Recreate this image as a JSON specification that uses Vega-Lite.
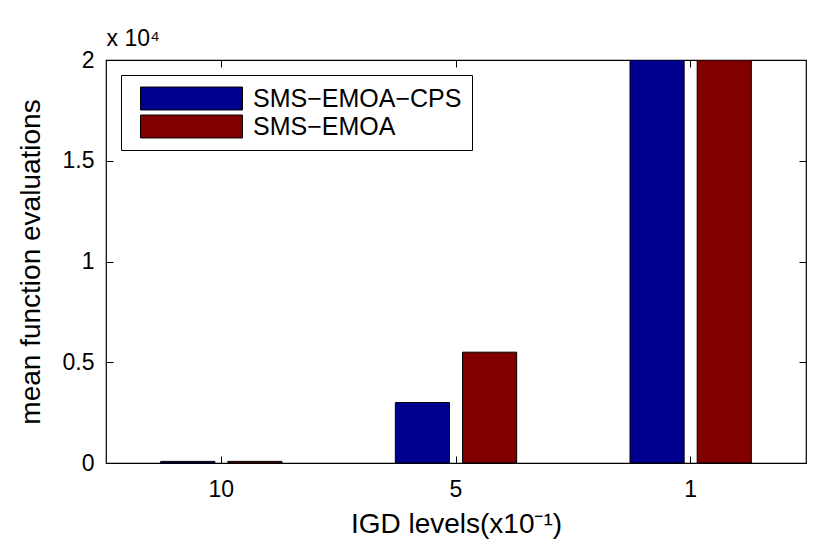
{
  "$schema": "https://vega.github.io/schema/vega-lite/v6.json",
  "autosize": {"type": "none"},
  "width": 700,
  "height": 403,
  "padding": {"left": 106, "top": 60, "right": 24, "bottom": 90},
  "background": "white",
  "config": {
    "font": "Liberation Sans",
    "view": {"stroke": "black", "strokeWidth": 1.2},
    "axis": {
      "grid": false,
      "domainColor": "black",
      "tickColor": "black",
      "labelColor": "black",
      "titleColor": "black",
      "labelFont": "Liberation Sans",
      "titleFont": "Liberation Sans",
      "labelFontSize": 23,
      "titleFontSize": 28,
      "titleFontWeight": "normal",
      "tickSize": -7,
      "labelPadding": 19
    }
  },
  "data": {
    "values": [
      {"level": "10", "alg": "SMS-EMOA-CPS", "evals": 80},
      {"level": "10", "alg": "SMS-EMOA", "evals": 80},
      {"level": "5", "alg": "SMS-EMOA-CPS", "evals": 3000},
      {"level": "5", "alg": "SMS-EMOA", "evals": 5500},
      {"level": "1", "alg": "SMS-EMOA-CPS", "evals": 20000},
      {"level": "1", "alg": "SMS-EMOA", "evals": 20000}
    ]
  },
  "layer": [
    {
      "mark": {"type": "bar", "stroke": "black", "strokeWidth": 1, "clip": true},
      "encoding": {
        "x": {
          "field": "level",
          "type": "nominal",
          "sort": ["10", "5", "1"],
          "scale": {"paddingInner": 0.483, "paddingOuter": 0.233},
          "axis": {"title": "IGD levels(x10⁻¹)", "labelAngle": 0, "labelPadding": 22, "titlePadding": 9, "domain": false}
        },
        "xOffset": {
          "field": "alg",
          "type": "nominal",
          "sort": ["SMS-EMOA-CPS", "SMS-EMOA"],
          "scale": {"paddingInner": 0.194, "paddingOuter": 0}
        },
        "y": {
          "field": "evals",
          "type": "quantitative",
          "scale": {"domain": [0, 20000], "nice": false},
          "axis": {
            "title": "mean function evaluations",
            "values": [0, 5000, 10000, 15000, 20000],
            "labelExpr": "datum.value / 10000",
            "titlePadding": 17,
            "domain": false
          }
        },
        "color": {
          "field": "alg",
          "type": "nominal",
          "sort": ["SMS-EMOA-CPS", "SMS-EMOA"],
          "scale": {"range": ["#00008F", "#800000"]},
          "legend": {
            "title": null,
            "orient": "none",
            "legendX": 15,
            "legendY": 15,
            "symbolType": "M-4,-0.9H4V0.9H-4Z",
            "symbolSize": 650,
            "symbolStrokeColor": "black",
            "symbolStrokeWidth": 1,
            "symbolOpacity": 1,
            "labelExpr": "datum.label == 'SMS-EMOA-CPS' ? 'SMS−EMOA−CPS' : 'SMS−EMOA'",
            "labelFontSize": 25,
            "labelLimit": 500,
            "labelFont": "Liberation Sans",
            "labelColor": "black",
            "labelOffset": 48,
            "rowPadding": 1,
            "padding": 10,
            "symbolOffset": 47,
            "strokeColor": "black",
            "fillColor": "white"
          }
        }
      }
    },
    {
      "mark": {"type": "bar", "opacity": 0},
      "encoding": {
        "x": {
          "field": "level",
          "type": "nominal",
          "sort": ["10", "5", "1"],
          "scale": {"paddingInner": 0.483, "paddingOuter": 0.233},
          "axis": {
            "orient": "top",
            "labels": false,
            "domain": false,
            "title": "x 10⁴",
            "titleFontSize": 23,
            "titleX": 0,
            "titleY": -15,
            "titleAlign": "left",
            "titleBaseline": "alphabetic"
          }
        },
        "y": {
          "field": "evals",
          "type": "quantitative",
          "scale": {"domain": [0, 20000], "nice": false},
          "axis": {"orient": "right", "labels": false, "title": null, "values": [0, 5000, 10000, 15000, 20000], "domain": false}
        }
      }
    }
  ],
  "resolve": {"axis": {"x": "independent", "y": "independent"}}
}
